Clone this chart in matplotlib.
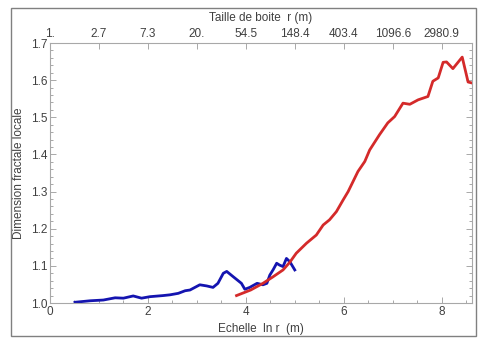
import numpy as np
import matplotlib
matplotlib.use('Agg')
import matplotlib.pyplot as plt
from matplotlib.patches import Rectangle

plt.rcParams['font.family'] = ['Liberation Sans', 'DejaVu Sans']

# --- data --- #

# small scale curve (blue)
blue_x = [0.51, 0.82, 1.09, 1.33, 1.50, 1.70, 1.87, 2.04, 2.31, 2.45, 2.62, 2.76,
          2.86, 3.06, 3.20, 3.33, 3.43, 3.54, 3.61, 3.74, 3.91, 3.98, 4.08, 4.23,
          4.35, 4.43, 4.49, 4.56, 4.63, 4.69, 4.76, 4.83, 4.90, 5.00]
blue_y = [1.002, 1.006, 1.008, 1.014, 1.013, 1.019, 1.013, 1.017, 1.020, 1.022, 1.026, 1.033,
          1.035, 1.049, 1.046, 1.042, 1.053, 1.080, 1.085, 1.071, 1.053, 1.037, 1.042, 1.053,
          1.049, 1.053, 1.075, 1.090, 1.107, 1.102, 1.098, 1.120, 1.111, 1.089]

# large scale curve (red)
red_x = [3.81, 4.10, 4.35, 4.55, 4.76, 4.90, 5.03, 5.24, 5.44, 5.58, 5.71, 5.85,
         5.99, 6.09, 6.29, 6.43, 6.53, 6.73, 6.90, 7.04, 7.21, 7.35, 7.52, 7.72,
         7.82, 7.93, 8.03, 8.10, 8.23, 8.42, 8.54, 8.60]
red_y = [1.020, 1.035, 1.053, 1.070, 1.089, 1.110, 1.134, 1.161, 1.183, 1.210, 1.224, 1.246,
         1.278, 1.300, 1.354, 1.381, 1.412, 1.453, 1.485, 1.502, 1.538, 1.535, 1.547, 1.556,
         1.597, 1.606, 1.648, 1.649, 1.631, 1.662, 1.595, 1.593]

bottom_ticks = [0, 2, 4, 6, 8]
top_ticks = [0, 1, 2, 3, 4, 5, 6, 7, 8]
top_labels = ['1.', '2.7', '7.3', '20.', '54.5', '148.4', '403.4', '1096.6', '2980.9']
y_ticks = [1.0, 1.1, 1.2, 1.3, 1.4, 1.5, 1.6, 1.7]

# --- plotting --- #

fig = plt.figure(figsize=(4.78, 3.38), dpi=100)
ax = fig.add_axes([50 / 478, 35 / 338, 422 / 478, 260 / 338])

ax.plot(blue_x, blue_y, color='#1414b0', lw=2.0)
ax.plot(red_x, red_y, color='#d42a2a', lw=2.0)

ax.set_xlim(0, 8.62)
ax.set_ylim(1.0, 1.7)

frame_col = '#a8a8a8'
text_col = '#404040'

for sp in ax.spines.values():
    sp.set_color(frame_col)
    sp.set_linewidth(0.8)

ax.set_xticks(bottom_ticks)
ax.set_xticklabels([str(t) for t in bottom_ticks])
ax.set_xticks(np.arange(0, 8.7, 0.5), minor=True)
ax.set_yticks(y_ticks)
ax.set_yticklabels(['%.1f' % t for t in y_ticks])
ax.set_yticks(np.arange(1.0, 1.701, 0.02), minor=True)

ax.tick_params(which='both', direction='in', color=frame_col, labelcolor=text_col,
               labelsize=8.5, right=True, width=0.7)
ax.tick_params(which='major', length=4, pad=2)
ax.tick_params(which='minor', length=2.2)

ax2 = ax.twiny()
ax2.set_xlim(ax.get_xlim())
ax2.set_xticks(top_ticks)
ax2.set_xticklabels(top_labels)
ax2.tick_params(direction='in', color=frame_col, labelcolor=text_col, labelsize=8.5,
                length=4, width=0.7, pad=2)
for sp in ax2.spines.values():
    sp.set_visible(False)

ax.set_xlabel('Echelle  ln r  (m)', fontsize=8.5, color=text_col, labelpad=4)
ax.set_ylabel('Dimension fractale locale', fontsize=8.5, color=text_col, labelpad=4)
ax2.set_xlabel('Taille de boite  r (m)', fontsize=8.5, color=text_col, labelpad=5)

# outer frame of the picture
fig.patches.append(Rectangle((11 / 478, 2 / 338), 465 / 478, 328 / 338,
                             transform=fig.transFigure, fill=False,
                             edgecolor='#808080', lw=1.0))

plt.savefig('out.png', dpi=100)
